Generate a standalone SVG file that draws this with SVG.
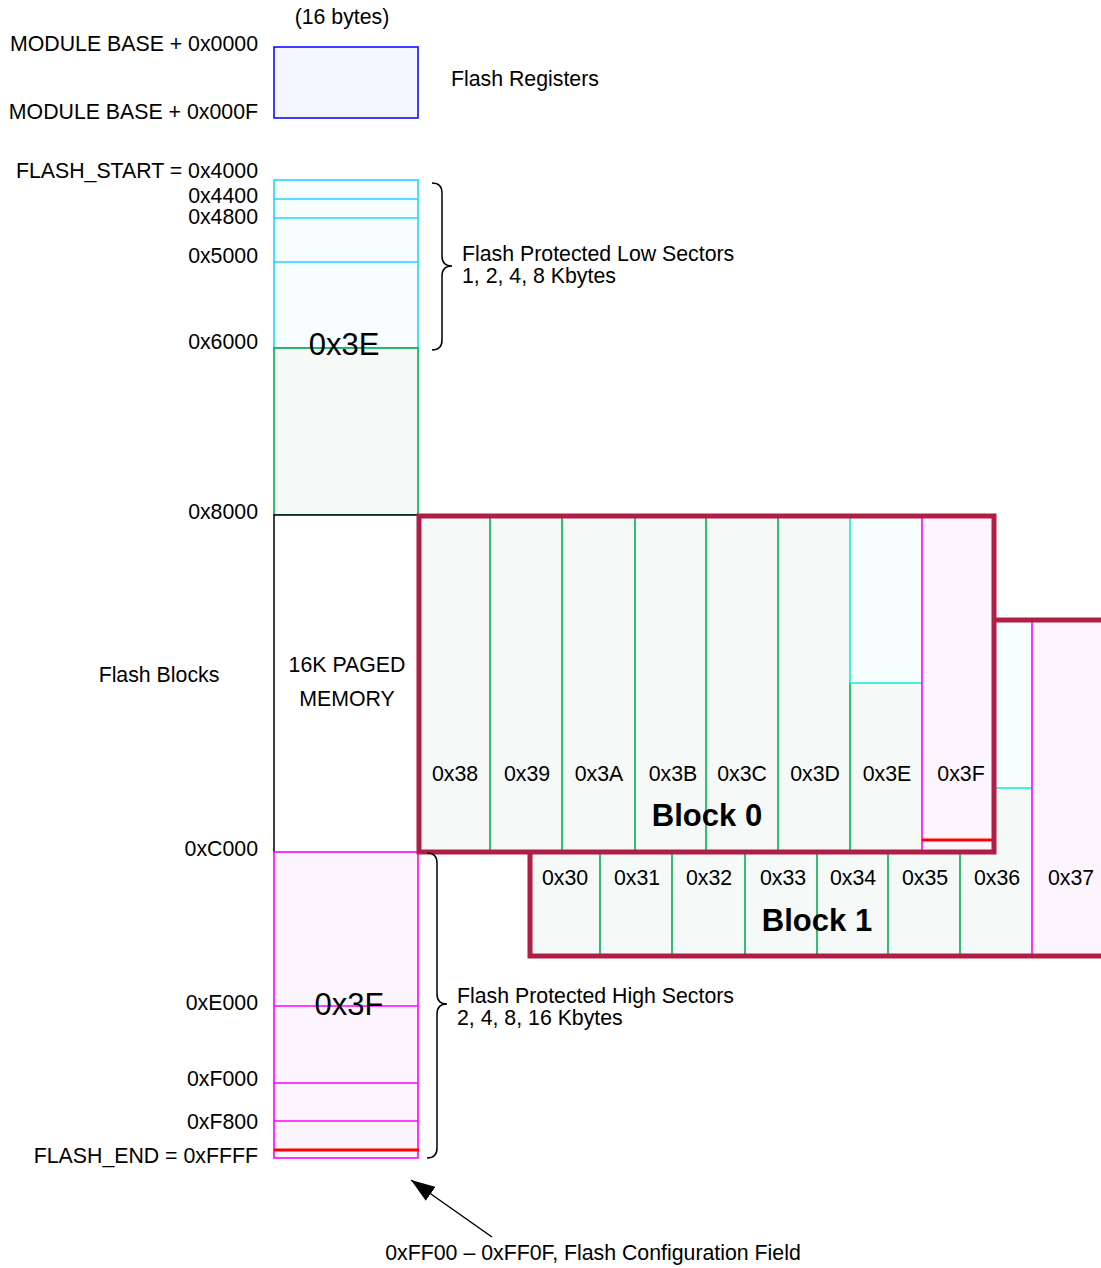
<svg xmlns="http://www.w3.org/2000/svg" width="1101" height="1268" viewBox="0 0 1101 1268">
<defs>
<style>
text{font-family:"Liberation Sans",Arial,sans-serif;font-size:21.3px;fill:#000}
.r{text-anchor:end}
.m{text-anchor:middle}
.big{font-size:31px}
.blk{font-size:31px;font-weight:bold;text-anchor:middle}
.cy{stroke:#22d4ff;stroke-width:1.6}
.tq{stroke:#11eecc;stroke-width:1.6}
.gr{stroke:#00b050;stroke-width:1.6}
.mg{stroke:#ff00ff;stroke-width:1.6}
.rd{stroke:#ff0000;stroke-width:3}
.frame{fill:none;stroke:#b01e46;stroke-width:5}
.brace{fill:none;stroke:#000;stroke-width:1.5}
</style>
<marker id="ah2" viewBox="0 0 20 14" refX="20" refY="7" markerWidth="24" markerHeight="17" markerUnits="userSpaceOnUse" orient="auto">
<path d="M0,0 L20,7 L0,14 z" fill="#000"/>
</marker>
</defs>

<g id="flash-registers">
<rect x="274" y="47" width="144" height="71" fill="#f5f5ff" stroke="#1010ff" stroke-width="1.6"/>
<text x="342" y="24" class="m">(16 bytes)</text>
<text x="451" y="86">Flash Registers</text>
<text x="258" y="51" class="r">MODULE BASE + 0x0000</text>
<text x="258" y="119" class="r">MODULE BASE + 0x000F</text>
</g>

<g id="low-sectors">
<rect x="274" y="180" width="144" height="168" fill="#f5fdff" class="cy"/>
<line x1="274" y1="199" x2="418" y2="199" class="cy"/>
<line x1="274" y1="218" x2="418" y2="218" class="cy"/>
<line x1="274" y1="262" x2="418" y2="262" class="cy"/>
</g>
<g id="page-3E">
<rect x="274" y="348" width="144" height="167" fill="#f5f9f7" class="gr"/>
<text x="344" y="355" class="big m">0x3E</text>
</g>

<g id="paged-memory">
<path d="M274,852 V515 H418" fill="#fff" stroke="#000" stroke-width="1.5"/>
<text x="347" y="672" class="m">16K PAGED</text>
<text x="347" y="706" class="m">MEMORY</text>
</g>

<g id="high-sectors">
<rect x="274" y="852" width="144" height="306" fill="#fcf5fd" class="mg"/>
<line x1="274" y1="1006" x2="418" y2="1006" class="mg"/>
<line x1="274" y1="1083" x2="418" y2="1083" class="mg"/>
<line x1="274" y1="1121" x2="418" y2="1121" class="mg"/>
<line x1="274" y1="1150" x2="419" y2="1150" class="rd"/>
<text x="349" y="1015" class="big m">0x3F</text>
</g>

<g id="address-labels">
<text x="258" y="178" class="r">FLASH_START = 0x4000</text>
<text x="258" y="203" class="r">0x4400</text>
<text x="258" y="224" class="r">0x4800</text>
<text x="258" y="263" class="r">0x5000</text>
<text x="258" y="349" class="r">0x6000</text>
<text x="258" y="519" class="r">0x8000</text>
<text x="258" y="856" class="r">0xC000</text>
<text x="258" y="1010" class="r">0xE000</text>
<text x="258" y="1086" class="r">0xF000</text>
<text x="258" y="1129" class="r">0xF800</text>
<text x="258" y="1163" class="r">FLASH_END = 0xFFFF</text>
<text x="159" y="682" class="m">Flash Blocks</text>
</g>

<g id="block-1">
<rect x="530" y="620" width="574" height="336" fill="#f5f9f7"/>
<rect x="960" y="620" width="72" height="168" fill="#f5fdfd"/>
<rect x="1032" y="620" width="72" height="336" fill="#fdf5fd"/>
<line x1="600" y1="620" x2="600" y2="956" class="gr"/>
<line x1="672" y1="620" x2="672" y2="956" class="gr"/>
<line x1="745" y1="620" x2="745" y2="956" class="gr"/>
<line x1="817" y1="620" x2="817" y2="956" class="gr"/>
<line x1="888" y1="620" x2="888" y2="956" class="gr"/>
<line x1="960" y1="788" x2="960" y2="956" class="gr"/>
<line x1="960" y1="620" x2="960" y2="788" class="tq"/>
<line x1="960" y1="788" x2="1032" y2="788" class="tq"/>
<line x1="1032" y1="620" x2="1032" y2="956" class="mg"/>
<rect x="530" y="620" width="574" height="336" class="frame"/>
<text x="565" y="885" class="m">0x30</text>
<text x="637" y="885" class="m">0x31</text>
<text x="709" y="885" class="m">0x32</text>
<text x="783" y="885" class="m">0x33</text>
<text x="853" y="885" class="m">0x34</text>
<text x="925" y="885" class="m">0x35</text>
<text x="997" y="885" class="m">0x36</text>
<text x="1071" y="885" class="m">0x37</text>
<text x="817" y="931" class="blk">Block 1</text>
</g>

<g id="block-0">
<rect x="419" y="516" width="575" height="336" fill="#f5f9f7"/>
<rect x="850" y="516" width="72" height="167" fill="#f5fdfd"/>
<rect x="922" y="516" width="72" height="336" fill="#fdf5fd"/>
<line x1="490" y1="516" x2="490" y2="852" class="gr"/>
<line x1="562" y1="516" x2="562" y2="852" class="gr"/>
<line x1="635" y1="516" x2="635" y2="852" class="gr"/>
<line x1="706" y1="516" x2="706" y2="852" class="gr"/>
<line x1="778" y1="516" x2="778" y2="852" class="gr"/>
<line x1="850" y1="683" x2="850" y2="852" class="gr"/>
<line x1="850" y1="516" x2="850" y2="683" class="tq"/>
<line x1="850" y1="683" x2="922" y2="683" class="tq"/>
<line x1="922" y1="516" x2="922" y2="852" class="mg"/>
<line x1="922" y1="840" x2="994" y2="840" class="rd"/>
<rect x="419" y="516" width="575" height="336" class="frame"/>
<text x="455" y="781" class="m">0x38</text>
<text x="527" y="781" class="m">0x39</text>
<text x="599" y="781" class="m">0x3A</text>
<text x="673" y="781" class="m">0x3B</text>
<text x="742" y="781" class="m">0x3C</text>
<text x="815" y="781" class="m">0x3D</text>
<text x="887" y="781" class="m">0x3E</text>
<text x="961" y="781" class="m">0x3F</text>
<text x="707" y="826" class="blk">Block 0</text>
</g>

<g id="low-brace">
<path class="brace" d="M432,183 Q442,183 442,193 V256 Q442,266 452,266 Q442,266 442,276 V340 Q442,350 432,350"/>
<text x="462" y="261">Flash Protected Low Sectors</text>
<text x="462" y="283">1, 2, 4, 8 Kbytes</text>
</g>
<g id="high-brace">
<path class="brace" d="M427,853 Q437,853 437,863 V994 Q437,1004 447,1004 Q437,1004 437,1014 V1148 Q437,1158 427,1158"/>
<text x="457" y="1003">Flash Protected High Sectors</text>
<text x="457" y="1025">2, 4, 8, 16 Kbytes</text>
</g>

<g id="connectors">
<line x1="492" y1="1237" x2="411" y2="1180" stroke="#000" stroke-width="1.5" marker-end="url(#ah2)"/>
</g>
<g id="config-field">
<text x="593" y="1260" class="m">0xFF00 – 0xFF0F, Flash Configuration Field</text>
</g>
</svg>
